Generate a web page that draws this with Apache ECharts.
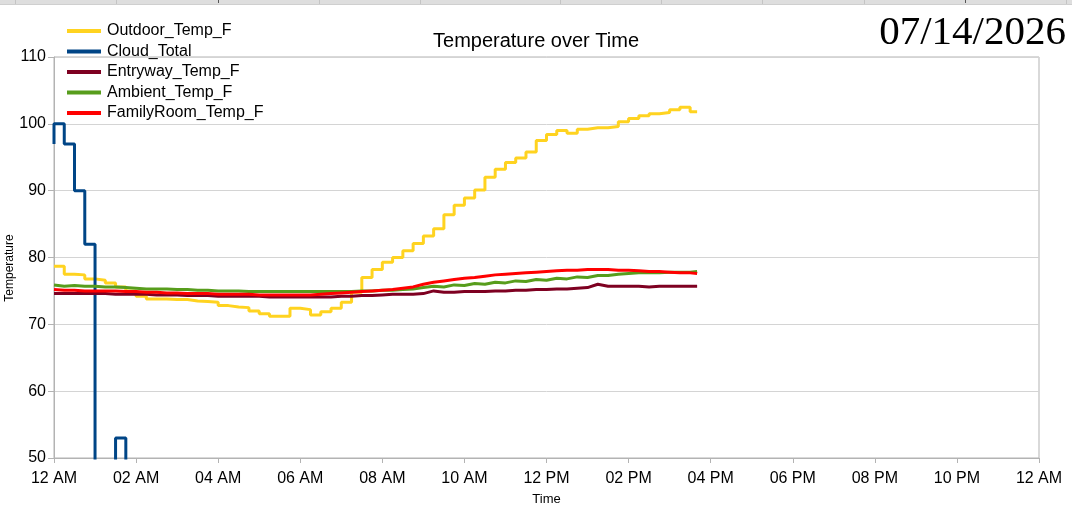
<!DOCTYPE html>
<html>
<head>
<meta charset="utf-8">
<script src="https://cdn.jsdelivr.net/npm/echarts@6/dist/echarts.min.js"></script>
<style>
  html, body { margin: 0; padding: 0; background: #fff; }
  #main { width: 1072px; height: 511px; }
</style>
</head>
<body>
<div id="main"></div>
<script>
// hours since midnight, read every 15 min
const hours = [0, 0.25, 0.5, 0.75, 1, 1.25, 1.5, 1.75, 2, 2.25, 2.5, 2.75, 3, 3.25, 3.5, 3.75,
  4, 4.25, 4.5, 4.75, 5, 5.25, 5.5, 5.75, 6, 6.25, 6.5, 6.75, 7, 7.25, 7.5, 7.75,
  8, 8.25, 8.5, 8.75, 9, 9.25, 9.5, 9.75, 10, 10.25, 10.5, 10.75, 11, 11.25, 11.5, 11.75,
  12, 12.25, 12.5, 12.75, 13, 13.25, 13.5, 13.75, 14, 14.25, 14.5, 14.75, 15, 15.25, 15.5, 15.67]

const outdoorTemp = [78.7, 77.5, 77.4, 76.8, 76.6, 76.2, 75.6, 75.0, 74.2, 73.8, 73.8, 73.7, 73.7, 73.5, 73.4, 73.3,
  72.8, 72.6, 72.5, 72.0, 71.6, 71.2, 71.2, 72.4, 72.2, 71.4, 71.9, 72.4, 73.3, 74.8, 77.0, 78.2,
  79.3, 80.0, 81.0, 82.1, 83.2, 84.3, 86.4, 87.8, 88.9, 90.1, 92.0, 93.2, 94.2, 94.9, 95.8, 97.5,
  98.4, 99.0, 98.6, 99.2, 99.4, 99.4, 99.6, 100.3, 100.8, 101.2, 101.5, 101.7, 102.1, 102.5, 101.8, 101.8]

const entrywayTemp = [74.6, 74.6, 74.6, 74.6, 74.6, 74.6, 74.5, 74.5, 74.5, 74.5, 74.4, 74.4, 74.4, 74.3, 74.3, 74.3,
  74.2, 74.2, 74.2, 74.2, 74.2, 74.1, 74.1, 74.1, 74.1, 74.1, 74.1, 74.1, 74.2, 74.2, 74.3, 74.3,
  74.4, 74.5, 74.5, 74.5, 74.6, 75.0, 74.8, 74.8, 74.9, 74.9, 74.9, 75.0, 75.0, 75.1, 75.1, 75.2,
  75.2, 75.3, 75.3, 75.4, 75.5, 76.0, 75.7, 75.7, 75.7, 75.7, 75.6, 75.7, 75.7, 75.7, 75.7, 75.7]

const ambientTemp = [75.9, 75.7, 75.8, 75.7, 75.7, 75.6, 75.6, 75.5, 75.4, 75.3, 75.3, 75.3, 75.2, 75.2, 75.1, 75.1,
  75.0, 75.0, 75.0, 74.9, 74.9, 74.9, 74.9, 74.9, 74.9, 74.9, 74.9, 74.9, 74.9, 74.9, 75.0, 75.0,
  75.1, 75.1, 75.2, 75.3, 75.5, 75.7, 75.6, 75.9, 75.8, 76.1, 76.0, 76.3, 76.2, 76.5, 76.4, 76.7,
  76.6, 76.9, 76.8, 77.1, 77.0, 77.3, 77.3, 77.5, 77.6, 77.7, 77.7, 77.7, 77.8, 77.8, 77.8, 77.9]

const familyRoomTemp = [75.2, 75.1, 75.1, 75.0, 75.0, 75.0, 75.0, 74.9, 74.9, 74.8, 74.8, 74.7, 74.7, 74.6, 74.6, 74.6,
  74.5, 74.5, 74.5, 74.5, 74.4, 74.4, 74.4, 74.4, 74.4, 74.4, 74.5, 74.6, 74.7, 74.8, 74.9, 75.0,
  75.1, 75.2, 75.4, 75.6, 76.0, 76.3, 76.5, 76.7, 76.9, 77.0, 77.2, 77.4, 77.5, 77.6, 77.7, 77.8,
  77.9, 78.0, 78.1, 78.1, 78.2, 78.2, 78.2, 78.1, 78.1, 78.0, 77.9, 77.9, 77.8, 77.7, 77.7, 77.6]

// cloud total drops below the axis after 1 AM, only the short bump is visible
const cloudHours = [0, 0.25, 0.5, 0.75, 1, 1.5, 1.75, 2, 15.67]
const cloudTotal = [97, 100, 97, 90, 82, 0, 53, 0, 0]

const xTickLabels = ['12 AM', '02 AM', '04 AM', '06 AM', '08 AM', '10 AM', '12 PM',
  '02 PM', '04 PM', '06 PM', '08 PM', '10 PM', '12 AM']

function pairs(xs, ys) {
  return xs.map((x, i) => [x, ys[i]])
}

const chart = echarts.init(document.getElementById('main'))

const lineSeries = (name, color, xs, ys, step) => ({
  name: name,
  type: 'line',
  step: step,
  showSymbol: false,
  symbol: 'none',
  clip: true,
  lineStyle: { color: color, width: 3 },
  itemStyle: { color: color },
  data: pairs(xs, ys)
})

// spreadsheet column strip along the top edge
const colLines = [15, 116, 319, 420, 560, 661, 762, 864, 1066].map(x => ({
  type: 'line', shape: { x1: x + 0.5, y1: 0, x2: x + 0.5, y2: 4 }, style: { stroke: '#c4c4c4', lineWidth: 1 }
}))
const darkMarks = [218, 965].map(x => ({
  type: 'line', shape: { x1: x + 0.5, y1: 0, x2: x + 0.5, y2: 3 }, style: { stroke: '#555', lineWidth: 1 }
}))

const option = {
  animation: false,
  textStyle: { fontFamily: 'Liberation Sans' },
  title: {
    text: 'Temperature over Time',
    left: 'center',
    top: 26,
    textStyle: { fontSize: 20, fontWeight: 'normal', color: '#000', fontFamily: 'Liberation Sans' }
  },
  legend: {
    orient: 'vertical',
    left: 62,
    top: 17,
    itemWidth: 34,
    itemHeight: 4,
    itemGap: 2.5,
    icon: 'rect',
    textStyle: { fontSize: 16, color: '#000', lineHeight: 18, padding: [0, 0, 0, 1] },
    data: ['Outdoor_Temp_F', 'Cloud_Total', 'Entryway_Temp_F', 'Ambient_Temp_F', 'FamilyRoom_Temp_F']
  },
  grid: {
    left: 54,
    right: 33,
    top: 57,
    bottom: 52,
    show: true,
    borderColor: '#b3b3b3',
    borderWidth: 1,
    containLabel: false
  },
  xAxis: {
    type: 'value',
    min: 0,
    max: 24,
    interval: 2,
    name: 'Time',
    nameLocation: 'middle',
    nameGap: 35,
    nameTextStyle: { fontSize: 13, color: '#000' },
    axisLine: { show: true, lineStyle: { color: '#b3b3b3', width: 1 } },
    axisTick: { show: true, length: 5, lineStyle: { color: '#b3b3b3' } },
    axisLabel: {
      fontSize: 16,
      color: '#000',
      margin: 13,
      formatter: v => xTickLabels[Math.round(v / 2)]
    },
    splitLine: { show: false }
  },
  yAxis: {
    type: 'value',
    min: 50,
    max: 110,
    interval: 10,
    axisLine: { show: true, lineStyle: { color: '#b3b3b3', width: 1 } },
    axisTick: { show: true, length: 6, lineStyle: { color: '#b3b3b3' } },
    axisLabel: { fontSize: 16, color: '#000', margin: 8 },
    splitLine: { show: true, lineStyle: { color: '#d4d4d4', width: 1 } }
  },
  graphic: [
    { type: 'rect', shape: { x: 0, y: 0, width: 1072, height: 4 }, style: { fill: '#dedede' } },
    { type: 'line', shape: { x1: 0, y1: 4.5, x2: 1072, y2: 4.5 }, style: { stroke: '#cfcfcf', lineWidth: 1 } },
    ...colLines,
    ...darkMarks,
    {
      type: 'text',
      right: 6,
      top: 13,
      style: { text: '07/14/2026', fontSize: 41, fontFamily: 'Liberation Serif', fill: '#000' }
    },
    {
      type: 'text',
      x: 4,
      y: 268,
      rotation: Math.PI / 2,
      style: { text: 'Temperature', fontSize: 12, fill: '#000', align: 'center', verticalAlign: 'top', fontFamily: 'Liberation Sans' }
    }
  ],
  series: [
    lineSeries('Outdoor_Temp_F', '#ffd320', hours, outdoorTemp, 'end'),
    lineSeries('Cloud_Total', '#004586', cloudHours, cloudTotal, 'start'),
    lineSeries('Entryway_Temp_F', '#7e0021', hours, entrywayTemp, false),
    lineSeries('Ambient_Temp_F', '#579d1c', hours, ambientTemp, false),
    lineSeries('FamilyRoom_Temp_F', '#ff0000', hours, familyRoomTemp, false)
  ]
}

chart.setOption(option)
</script>
</body>
</html>
